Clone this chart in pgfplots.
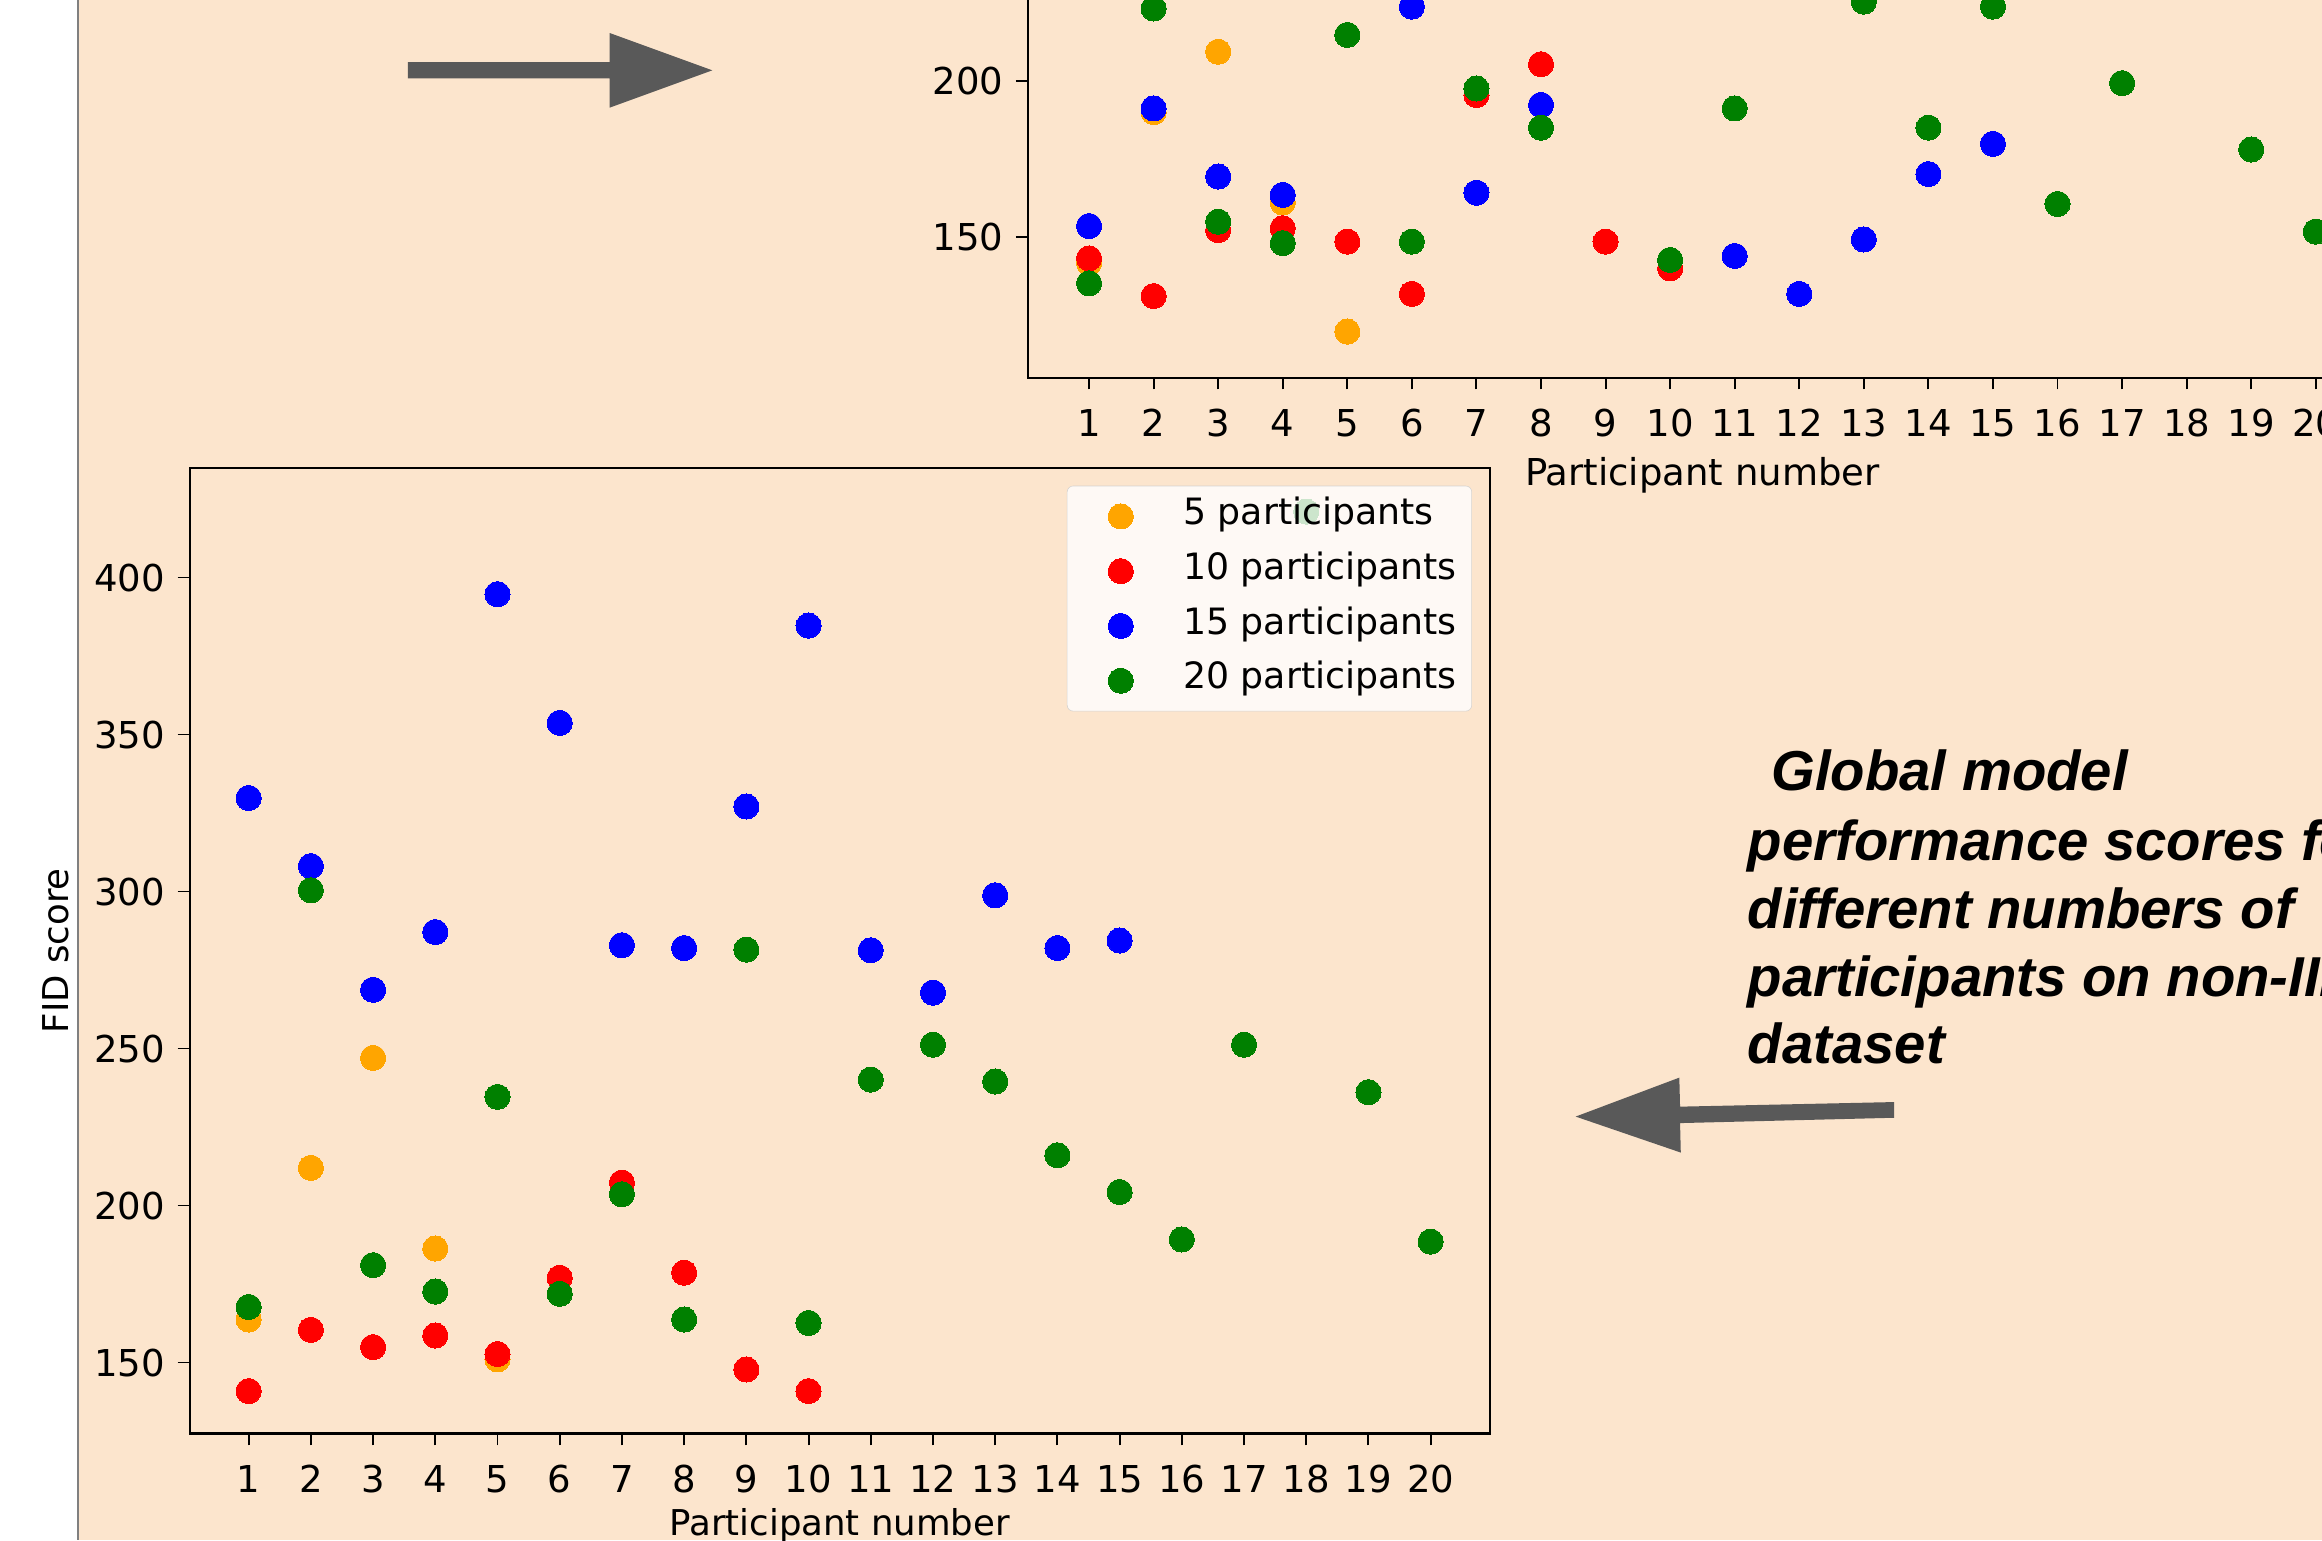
\documentclass[border=0pt]{standalone}
\usepackage{pgfplots}
\pgfplotsset{compat=1.18}
\usepackage{fontspec}
\setmainfont{DejaVu Sans}
\newfontfamily\arialfont{Liberation Sans}
\definecolor{bg}{HTML}{FCE5CD}
\definecolor{arrowgrey}{HTML}{595959}
\definecolor{mplorange}{HTML}{FFA500}
\definecolor{mplred}{HTML}{FF0000}
\definecolor{mplblue}{HTML}{0000FF}
\definecolor{mplgreen}{HTML}{008000}
\pgfplotsset{
  fidstyle/.style={
    scale only axis,
    anchor=south west,
    xmin=0.05, xmax=20.95,
    xtick={1,...,20},
    tick pos=left,
    tick align=outside,
    major tick length=8pt,
    tick style={black, line width=1.3pt},
    axis line style={black, line width=1.4pt},
    /pgf/number format/assume math mode=true,
    ticklabel style={font=\fontsize{25}{29}\selectfont},
    every x tick label/.append style={yshift=-10pt},
    every y tick label/.append style={xshift=-5pt},
  },
  dot/.style={only marks, mark=*, mark size=8.5pt, mark options={line width=0pt}},
}
\begin{document}
\begin{tikzpicture}
\useasboundingbox (0pt,0pt) rectangle (1568pt,-1040pt);
\clip (0pt,0pt) rectangle (1568pt,-1040pt);
\fill[bg] (0pt,0pt) rectangle (1568pt,-1040pt);
\fill[white] (0pt,0pt) rectangle (52.5pt,-1040pt);
\draw[gray, line width=1.2pt] (52.5pt,0pt) -- (52.5pt,-1040pt);

% top (partial) plot
\begin{axis}[fidstyle,
  at={(694pt,-255pt)},
  width=911.2pt, height=326.4pt,
  ymin=104.7, ymax=260,
  ytick={150,200,250},
  xlabel={Participant number},
  every axis x label/.style={at={(axis description cs:0.5,0)}, anchor=base, yshift=-73pt, font=\fontsize{25}{29}\selectfont},
]
\addplot[dot, mplorange] coordinates {(1,141.5)(2,190)(3,209.4)(4,161)(5,119.5)};
\addplot[dot, mplred] coordinates {(1,143)(2,130.9)(3,152.1)(4,152.7)(5,148.4)(6,131.6)(7,195.5)(8,205.4)(9,148.4)(10,139.8)};
\addplot[dot, mplblue] coordinates {(1,153.4)(2,191.2)(3,169.3)(4,163.4)(6,223.9)(7,164.1)(8,192.3)(11,143.8)(12,131.6)(13,149.1)(14,170.1)(15,179.8)};
\addplot[dot, mplgreen] coordinates {(1,135)(2,223.3)(3,154.8)(4,147.9)(5,214.8)(6,148.4)(7,197.6)(8,185)(10,142.5)(11,191.2)(13,225.5)(14,185)(15,223.9)(16,160.5)(17,199.3)(19,178)(20,151.6)};
\end{axis}

% bottom plot
\begin{axis}[fidstyle,
  at={(128pt,-968pt)},
  width=878pt, height=652pt,
  ymin=127.4, ymax=434.9,
  ytick={150,200,...,400},
  xlabel={Participant number},
  ylabel={FID score},
  every axis x label/.style={at={(axis description cs:0.5,0)}, anchor=base, yshift=-69pt, font=\fontsize{24}{28}\selectfont},
  every axis y label/.style={at={(axis description cs:0,0.5)}, anchor=center, rotate=90, yshift=90pt, font=\fontsize{24}{28}\selectfont},
  legend cell align=left,
  legend style={at={(1,1)}, anchor=north east, xshift=-12pt, yshift=-12pt,
    fill=white, fill opacity=0.8, text opacity=1, draw=black!20, draw opacity=0.8,
    rounded corners=4pt, inner sep=7pt, row sep=10pt, column sep=11pt,
    font=\fontsize{24.5}{29}\selectfont,
    nodes={inner sep=3pt, text height=16pt, text depth=5pt}},
  legend image code/.code={\path (-29pt,0pt) (28pt,0pt); \draw[#1, fill opacity=1, draw opacity=1] plot coordinates {(0pt,0pt)};},
]
\addplot[dot, mplorange] coordinates {(1,163.7)(2,212)(3,247)(4,186.3)(5,151)};
\addlegendentry{5 participants}
\addplot[dot, mplred] coordinates {(1,140.9)(2,160.4)(3,154.9)(4,158.6)(5,152.7)(6,177)(7,207.3)(8,178.6)(9,147.8)(10,140.9)};
\addlegendentry{10 participants}
\addplot[dot, mplblue] coordinates {(1,329.8)(2,308.1)(3,268.7)(4,287.1)(5,394.7)(6,353.7)(7,282.9)(8,282)(9,327.1)(10,384.7)(11,281.3)(12,267.8)(13,298.8)(14,282)(15,284.4)};
\addlegendentry{15 participants}
\addplot[dot, mplgreen] coordinates {(1,167.7)(2,300.4)(3,181)(4,172.6)(5,234.6)(6,171.9)(7,203.6)(8,163.7)(9,281.5)(10,162.6)(11,240.1)(12,251.2)(13,239.5)(14,216)(15,204.3)(16,189.2)(17,251.2)(18,421)(19,236.1)(20,188.5)};
\addlegendentry{20 participants}
\end{axis}

% arrows
\fill[arrowgrey] (275.5pt,-42pt) -- (411.7pt,-42pt) -- (411.7pt,-22.3pt) -- (481pt,-47.5pt) -- (411.7pt,-72.7pt) -- (411.7pt,-52.9pt) -- (275.5pt,-52.9pt) -- cycle;
\fill[arrowgrey] (1279pt,-744.2pt) -- (1279pt,-754.8pt) -- (1134.5pt,-758.4pt) -- (1135pt,-778.3pt) -- (1064pt,-754pt) -- (1134pt,-727.7pt) -- (1134.5pt,-747.3pt) -- cycle;

% annotation
\begin{scope}[every node/.style={anchor=base west, inner sep=0pt, font=\arialfont\bfseries\itshape\fontsize{38}{46}\selectfont}]
\node at (1196pt,-534pt) {Global model};
\node at (1180pt,-581pt) {performance scores for};
\node at (1180pt,-627pt) {different numbers of};
\node at (1180pt,-673pt) {participants on non-IID};
\node at (1180pt,-718pt) {dataset};
\end{scope}
\end{tikzpicture}
\end{document}
